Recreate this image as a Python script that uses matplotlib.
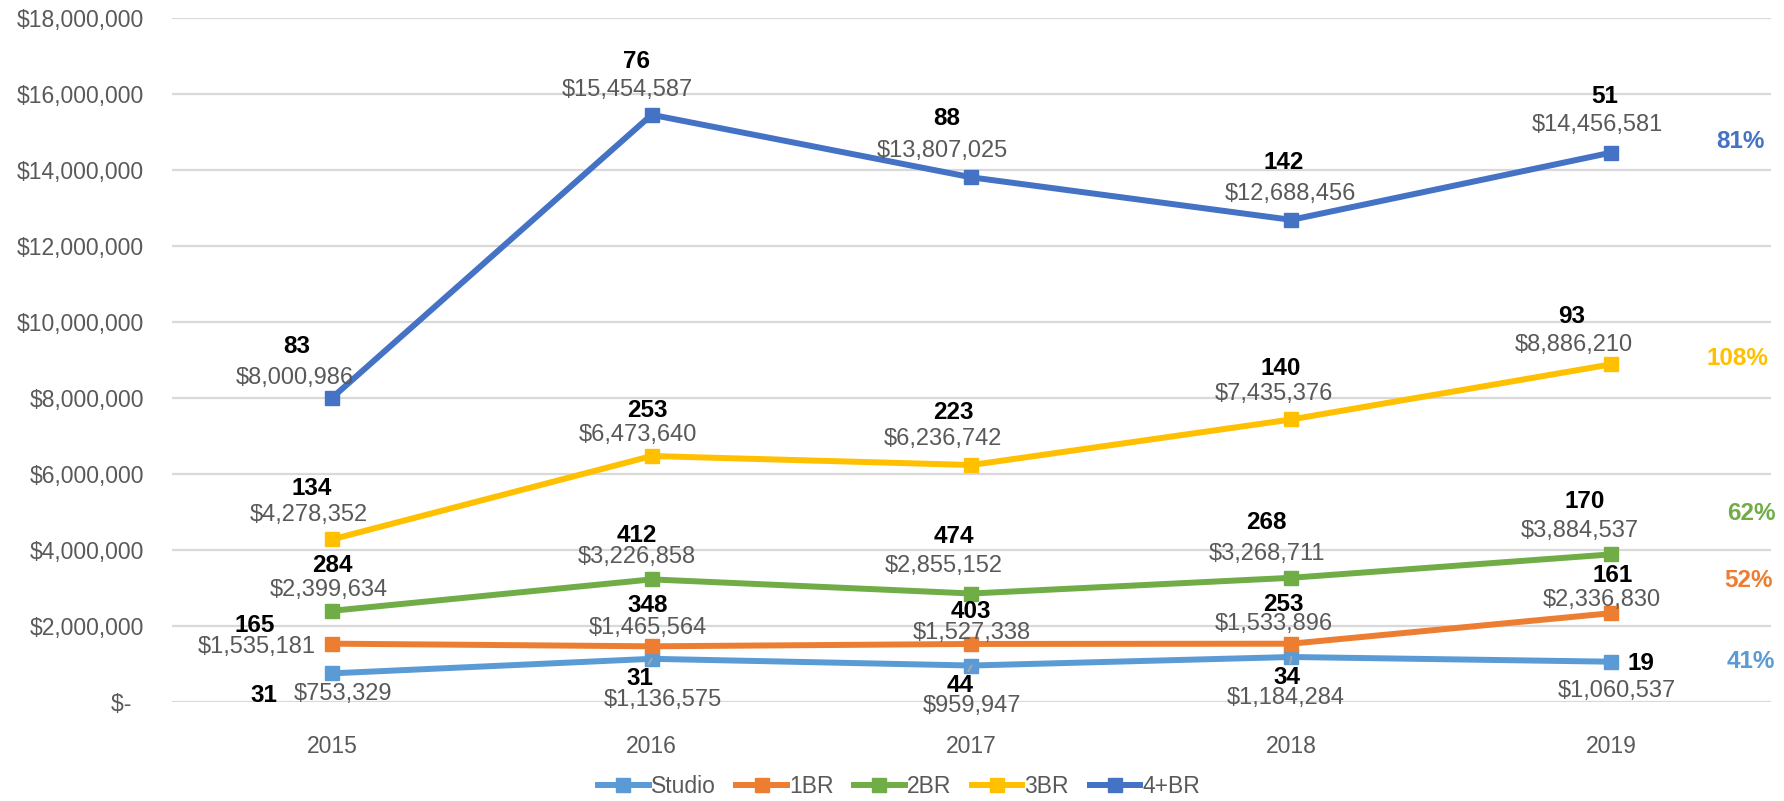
import matplotlib.pyplot as plt
import numpy as np

plt.rcParams["font.family"] = ["Liberation Sans", "DejaVu Sans"]

years = ["2015", "2016", "2017", "2018", "2019"]
series = ["Studio", "1BR", "2BR", "3BR", "4+BR"]

studio_sales = [753329, 1136575, 959947, 1184284, 1060537]
br1_sales = [1535181, 1465564, 1527338, 1533896, 2336830]
br2_sales = [2399634, 3226858, 2855152, 3268711, 3884537]
br3_sales = [4278352, 6473640, 6236742, 7435376, 8886210]
br4_sales = [8000986, 15454587, 13807025, 12688456, 14456581]

studio_count = [31, 31, 44, 34, 19]
br1_count = [165, 348, 403, 253, 161]
br2_count = [284, 412, 474, 268, 170]
br3_count = [134, 253, 223, 140, 93]
br4_count = [83, 76, 88, 142, 51]

growth = ["41%", "52%", "62%", "108%", "81%"]

colors = ["#5B9BD5", "#ED7D31", "#70AD47", "#FFC000", "#4472C4"]

sales = [studio_sales, br1_sales, br2_sales, br3_sales, br4_sales]
counts = [studio_count, br1_count, br2_count, br3_count, br4_count]

# label offsets in pixels (image coords: +y is down), per series per year
# (count dx, count dy, dollar dx, dollar dy)
label_off = [
    [(-68, 22, 11, 21), (-12, 20, 11, 41), (-11, 20, 1, 40), (-4, 21, -6, 41), (30, 2, 6, 29)],
    [(-77, -18, -75, 3), (-4, -41, -4, -18), (-1, -32, 0, -11), (-8, -39, -17, -20), (2, -38, -9, -13)],
    [(0, -45, -3, -21), (-15, -44, -15, -22), (-18, -57, -28, -28), (-25, -55, -24, -24), (-26, -53, -31, -23)],
    [(-20, -51, -23, -24), (-4, -46, -14, -21), (-18, -53, -29, -26), (-11, -51, -17, -25), (-39, -48, -37, -19)],
    [(-35, -51, -37, -20), (-15, -53, -24, -25), (-25, -59, -29, -26), (-8, -57, -1, -26), (-6, -56, -14, -28)],
]
pct_off = [(140, 0), (137, -33), (140, -41), (126, -6), (129, -11)]
leader = {(0, 1), (0, 2), (0, 3)}

fig = plt.figure(figsize=(17.84, 8.01), dpi=100)
ax = fig.add_axes([0.0964, 0.1236, 0.8963, 0.8539])

x = np.arange(len(years))
for i, name in enumerate(series):
    ax.plot(x, sales[i], color=colors[i], lw=4.3, marker="s", markersize=10,
            label=name, zorder=3 + i)

for i in range(len(series)):
    for j in range(len(years)):
        cdx, cdy, ddx, ddy = label_off[i][j]
        arrow = None
        if (i, j) in leader:
            arrow = dict(arrowstyle="-", color="#a6a6a6", lw=1.5, shrinkA=0, shrinkB=6)
        ax.annotate(str(counts[i][j]), (x[j], sales[i][j]), xytext=(cdx, -cdy),
                    textcoords="offset pixels", ha="center", va="center",
                    fontsize=17.5, fontweight="bold", color="black", zorder=10,
                    arrowprops=arrow)
        ax.annotate(f"${sales[i][j]:,}", (x[j], sales[i][j]), xytext=(ddx, -ddy),
                    textcoords="offset pixels", ha="center", va="center",
                    fontsize=17, color="#595959", zorder=10)
    ax.annotate(growth[i], (x[-1], sales[i][-1]), xytext=(pct_off[i][0], -pct_off[i][1]),
                textcoords="offset pixels", ha="center", va="center",
                fontsize=17.5, fontweight="bold", color=colors[i])

yticks = np.arange(0, 18000001, 2000000)
ax.set_ylim(0, 18000000)
ax.set_xlim(-0.5, 4.5)
ax.set_yticks(yticks)
ax.set_yticklabels(["$-  "] + [f"${v:,}" for v in yticks[1:]])
ax.set_xticks(x)
ax.set_xticklabels(years)
ax.tick_params(axis="both", length=0, labelsize=16.5, labelcolor="#595959")
ax.tick_params(axis="y", pad=20)
ax.tick_params(axis="x", pad=24)
ax.grid(axis="y", color="#d9d9d9", lw=1.6)
ax.set_axisbelow(True)
for s in ax.spines.values():
    s.set_visible(False)

fig.legend(loc="center", bbox_to_anchor=(0.504, 0.0175), ncol=5, frameon=False,
           fontsize=16.5, labelcolor="#595959", handlelength=2.2, handletextpad=0.1,
           columnspacing=0.9)

fig.savefig("out.png", dpi=100)
